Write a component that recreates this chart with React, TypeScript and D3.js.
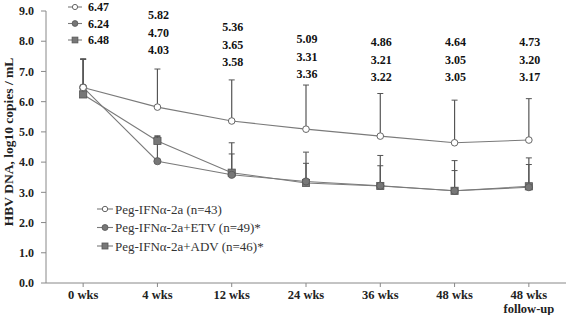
import React from "react";
import * as d3 from "d3";

const categories = ["0 wks", "4 wks", "12 wks", "24 wks", "36 wks", "48 wks", "48 wks\nfollow-up"];
const yTicks = [0, 1, 2, 3, 4, 5, 6, 7, 8, 9];

const ifnMean = [6.47, 5.82, 5.36, 5.09, 4.86, 4.64, 4.73];
const ifnUpper = [7.42, 7.08, 6.72, 6.55, 6.27, 6.05, 6.1];
const etvMean = [6.47, 4.03, 3.58, 3.36, 3.22, 3.05, 3.17];
const etvUpper = [7.4, 4.85, 4.27, 3.96, 3.88, 3.72, 3.92];
const advMean = [6.24, 4.7, 3.65, 3.31, 3.21, 3.05, 3.2];
const advUpper = [7.4, 4.87, 4.64, 4.33, 4.22, 4.05, 4.14];

const labelRow1 = ["6.47", "5.82", "5.36", "5.09", "4.86", "4.64", "4.73"];
const labelRow2 = ["6.24", "4.70", "3.65", "3.31", "3.21", "3.05", "3.20"];
const labelRow3 = ["6.48", "4.03", "3.58", "3.36", "3.22", "3.05", "3.17"];

const legendNames = ["Peg-IFNα-2a (n=43)", "Peg-IFNα-2a+ETV (n=49)*", "Peg-IFNα-2a+ADV (n=46)*"];

// layout
const W = 567, H = 315;
const left = 46, right = 566, top = 11, bottom = 283;
const labelTopY = [7, 15, 27, 39, 42, 42, 42];
const rowGap = 17.5;

const serif = "'Liberation Serif', 'Times New Roman', serif";
const lineColor = "#7a7a7a";
const barColor = "#555";

type Kind = "open" | "filled" | "square";

function Marker({ x, y, kind, r = 3.3 }: { x: number; y: number; kind: Kind; r?: number }) {
  if (kind === "open") return <circle cx={x} cy={y} r={r} fill="#fff" stroke="#666" strokeWidth={1} />;
  if (kind === "filled") return <circle cx={x} cy={y} r={r + 0.3} fill="#777" stroke="#555" strokeWidth={0.8} />;
  return <rect x={x - r - 0.3} y={y - r - 0.3} width={2 * r + 0.6} height={2 * r + 0.6} fill="#777" stroke="#555" strokeWidth={0.8} />;
}

export default function App() {
  const x = d3.scaleBand<string>().domain(categories).range([left, right]);
  const cx = (c: string) => (x(c) as number) + x.bandwidth() / 2;
  const y = d3.scaleLinear().domain([0, 9]).range([bottom, top]);
  const line = d3
    .line<number>()
    .x((_, i) => cx(categories[i]))
    .y((d) => y(d));

  const series: { mean: number[]; upper: number[]; kind: Kind }[] = [
    { mean: advMean, upper: advUpper, kind: "square" },
    { mean: etvMean, upper: etvUpper, kind: "filled" },
    { mean: ifnMean, upper: ifnUpper, kind: "open" },
  ];

  const legendKinds: Kind[] = ["open", "filled", "square"];

  return (
    <svg width={W} height={H} style={{ position: "absolute", left: 0, top: 0 }}>
      <rect width={W} height={H} fill="#fff" />
      {/* y axis */}
      <line x1={left} x2={left} y1={top} y2={bottom} stroke="#888" />
      {yTicks.map((t) => (
        <g key={t}>
          <line x1={left - 5} x2={left} y1={y(t)} y2={y(t)} stroke="#888" />
          <text x={34} y={y(t)} dy="0.35em" textAnchor="end" fontFamily={serif} fontWeight="bold" fontSize={12} fill="#222">
            {t.toFixed(1)}
          </text>
        </g>
      ))}
      {/* x axis */}
      <line x1={left} x2={right} y1={bottom} y2={bottom} stroke="#888" />
      {categories.map((c) => (
        <g key={c}>
          <line x1={cx(c)} x2={cx(c)} y1={bottom} y2={bottom + 4} stroke="#888" />
          {c.split("\n").map((s, i) => (
            <text key={i} x={cx(c)} y={295 + i * 13.5} dy="0.35em" textAnchor="middle" fontFamily={serif} fontWeight="bold" fontSize={12.5} fill="#222">
              {s}
            </text>
          ))}
        </g>
      ))}
      <text
        transform={`translate(13,${(top + bottom) / 2 - 5}) rotate(-90)`}
        textAnchor="middle"
        fontFamily={serif}
        fontWeight="bold"
        fontSize={13.5}
        fill="#222"
      >
        HBV DNA, log10 copies / mL
      </text>

      {/* error bars */}
      {series.map((s, si) =>
        s.mean.map((m, i) => {
          const xx = cx(categories[i]);
          return (
            <g key={`${si}-${i}`}>
              <line x1={xx} x2={xx} y1={y(m)} y2={y(s.upper[i])} stroke={barColor} strokeWidth={1.2} />
              <line x1={xx - 3} x2={xx + 3} y1={y(s.upper[i])} y2={y(s.upper[i])} stroke={barColor} strokeWidth={1} />
            </g>
          );
        })
      )}
      {/* lines */}
      {series.map((s, si) => (
        <path key={si} d={line(s.mean) || ""} fill="none" stroke={lineColor} strokeWidth={1.1} />
      ))}
      {series.map((s, si) =>
        s.mean.map((m, i) => <Marker key={`${si}-${i}`} x={cx(categories[i])} y={y(m)} kind={s.kind} />)
      )}

      {/* value labels */}
      {categories.map((c, i) =>
        [labelRow1[i], labelRow2[i], labelRow3[i]].map((lab, r) => {
          const ly = labelTopY[i] + (i === 0 ? r * 16.5 : r * rowGap);
          const lx = i === 0 ? 88 : cx(c) + 1;
          return (
            <g key={`${i}-${r}`}>
              {i === 0 && (
                <g>
                  <line x1={68} x2={82} y1={ly} y2={ly} stroke={lineColor} strokeWidth={1.1} />
                  <Marker x={75} y={ly} kind={legendKinds[r]} r={2.6} />
                </g>
              )}
              <text
                x={lx}
                y={ly}
                dy="0.35em"
                textAnchor={i === 0 ? "start" : "middle"}
                fontFamily={serif}
                fontWeight="bold"
                fontSize={12}
                fill="#111"
              >
                {lab}
              </text>
            </g>
          );
        })
      )}

      {/* legend */}
      {legendNames.map((n, i) => {
        const ly = 209 + i * 18.5;
        return (
          <g key={n}>
            <line x1={97} x2={113} y1={ly} y2={ly} stroke={lineColor} strokeWidth={1.1} />
            <Marker x={105} y={ly} kind={legendKinds[i]} r={2.7} />
            <text x={115} y={ly} dy="0.35em" fontFamily={serif} fontSize={13} fill="#333">
              {n}
            </text>
          </g>
        );
      })}
    </svg>
  );
}
